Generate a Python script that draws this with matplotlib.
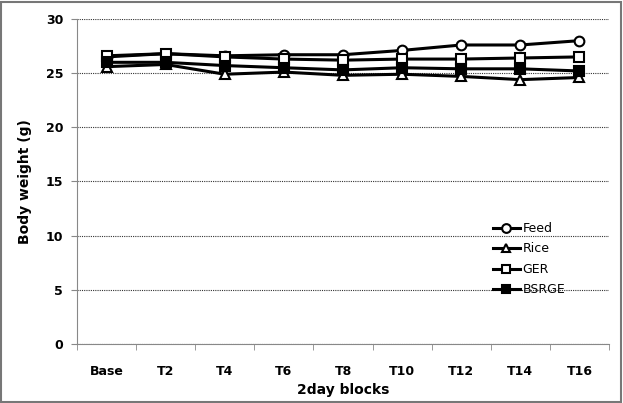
import matplotlib.pyplot as plt
from matplotlib.patches import Rectangle

# Data
blocks = ['Base', 'T2', 'T4', 'T6', 'T8', 'T10', 'T12', 'T14', 'T16']
feed = [26.5, 26.8, 26.6, 26.7, 26.7, 27.1, 27.6, 27.6, 28.0]
rice = [25.6, 25.8, 24.9, 25.1, 24.8, 24.9, 24.7, 24.4, 24.6]
ger = [26.6, 26.8, 26.5, 26.3, 26.2, 26.3, 26.3, 26.4, 26.5]
bsrge = [26.0, 26.0, 25.7, 25.5, 25.3, 25.5, 25.4, 25.4, 25.2]

fig = plt.figure(figsize=(6.23, 4.03), dpi=100)
ax = fig.add_axes([0.1236, 0.1464, 0.854, 0.8065])

x = range(len(blocks))
style = dict(color='black', linewidth=2.2, markersize=7, markeredgewidth=1.5)
ax.plot(x, feed, marker='o', markerfacecolor='white', label='Feed', **style)
ax.plot(x, rice, marker='^', markerfacecolor='white', label='Rice', **style)
ax.plot(x, ger, marker='s', markerfacecolor='white', label='GER', **style)
ax.plot(x, bsrge, marker='s', markerfacecolor='black', label='BSRGE', **style)

ax.set_xlim(-0.5, len(blocks) - 0.5)
ax.set_ylim(0, 30)
ax.set_yticks(range(0, 31, 5))
ax.set_xticks(list(x))
ax.set_xticklabels(blocks, fontweight='bold', fontsize=9)
for lbl in ax.get_yticklabels():
    lbl.set_fontweight('bold')
    lbl.set_fontsize(9)

# category boundary ticks on x axis
ax.set_xticks([i - 0.5 for i in range(len(blocks) + 1)], minor=True)
ax.tick_params(axis='x', which='major', length=0, pad=15)
ax.tick_params(axis='x', which='minor', length=4, color='#888888', direction='out')
ax.tick_params(axis='y', length=4, color='#888888', direction='out', pad=6)

ax.yaxis.grid(True, linestyle=(0, (1, 1)), color='#333333', linewidth=0.8)
ax.set_axisbelow(True)
for s in ['top', 'right']:
    ax.spines[s].set_visible(False)
for s in ['left', 'bottom']:
    ax.spines[s].set_color('#888888')

ax.set_ylabel('Body weight (g)', fontweight='bold', fontsize=10, labelpad=10)
ax.set_xlabel('2day blocks', fontweight='bold', fontsize=10, labelpad=4)

ax.legend(loc='upper left', bbox_to_anchor=(0.76, 0.41), frameon=False,
          fontsize=9, handlelength=2.2, handletextpad=0.2, labelspacing=0.6,
          markerscale=0.9)

fig.patches.append(Rectangle((0.002, 0.003), 0.995, 0.993, transform=fig.transFigure,
                             fill=False, edgecolor='#777777', linewidth=1.5))

fig.savefig('out.png', dpi=100)
